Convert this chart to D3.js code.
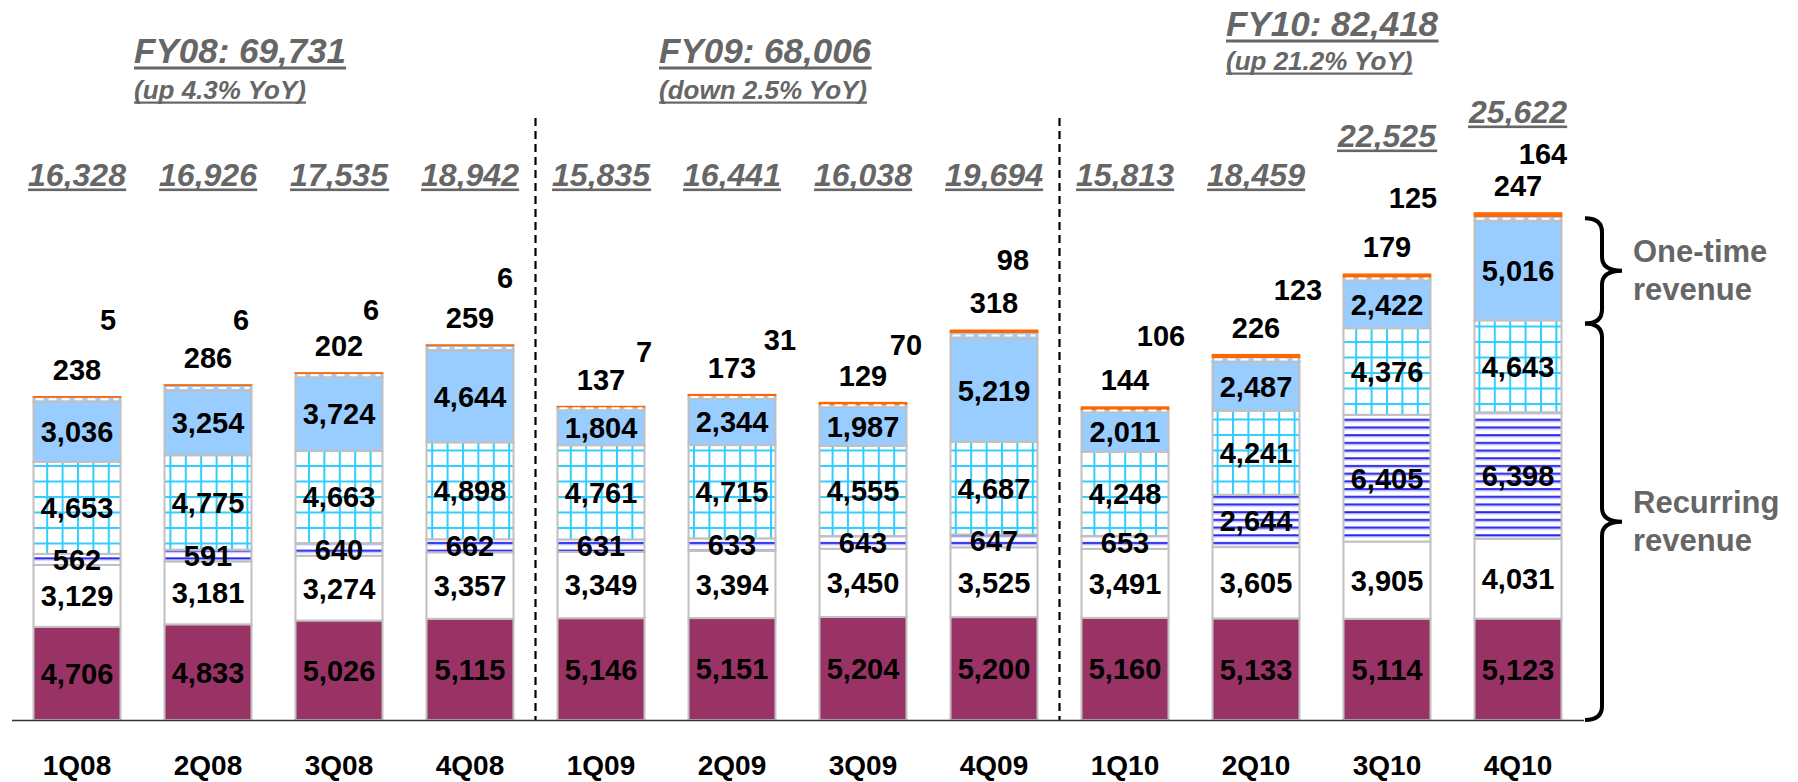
<!DOCTYPE html>
<html><head><meta charset="utf-8">
<script src="https://cdn.jsdelivr.net/npm/d3@7"></script>
<style>html,body{margin:0;padding:0;background:#fff;} svg{display:block;}</style>
</head><body><svg id="chart" width="1798" height="782"></svg>
<script>
// ---------------- data ----------------
const quarters = ["1Q08","2Q08","3Q08","4Q08","1Q09","2Q09","3Q09","4Q09","1Q10","2Q10","3Q10","4Q10"];
const seriesMaroon    = [4706,4833,5026,5115,5146,5151,5204,5200,5160,5133,5114,5123];
const seriesWhite     = [3129,3181,3274,3357,3349,3394,3450,3525,3491,3605,3905,4031];
const seriesHLines    = [562,591,640,662,631,633,643,647,653,2644,6405,6398];
const seriesGrid      = [4653,4775,4663,4898,4761,4715,4555,4687,4248,4241,4376,4643];
const seriesLightBlue = [3036,3254,3724,4644,1804,2344,1987,5219,2011,2487,2422,5016];
const seriesDashed    = [238,286,202,259,137,173,129,318,144,226,179,247];
const seriesOrange    = [5,6,6,6,7,31,70,98,106,123,125,164];
const totals          = [16328,16926,17535,18942,15835,16441,16038,19694,15813,18459,22525,25622];
const fyTitles    = ["FY08: 69,731","FY09: 68,006","FY10: 82,418"];
const fySubtitles = ["(up 4.3% YoY)","(down 2.5% YoY)","(up 21.2% YoY)"];
const braceLabels = [["One-time","revenue"],["Recurring","revenue"]];

// ---------------- layout ----------------
const W = 1798, H = 782, baseY = 720, topY = 213;
const orangeDx   = [31,33,32,35,43,48,43,19,36,42,26,25];
const orangeLift = [67,55,53,57,45,45,48,60,61,55,66,49];
const totalRaise = [0,0,0,0,0,0,0,0,0,0,39,63];
const fyX  = [134,659,1226], fyY = [63,63,36], fySubY = [99,99,70];
const grey = "#666666", border = "#C0C0C0";
const FONT = "'Liberation Sans', Arial, Helvetica, sans-serif";

const svg = d3.select("#chart");
const defs = svg.append("defs");
// grid pattern
const pg = defs.append("pattern").attr("id","grid").attr("patternUnits","userSpaceOnUse")
  .attr("width",15.4).attr("height",15.5);
pg.append("rect").attr("width",15.4).attr("height",15.5).attr("fill","#fff");
pg.append("rect").attr("x",0).attr("y",0).attr("width",2).attr("height",15.5).attr("fill","#33CCFF");
pg.append("rect").attr("x",0).attr("y",0).attr("width",15.4).attr("height",2).attr("fill","#33CCFF");
// horizontal lines pattern
const ph = defs.append("pattern").attr("id","hlines").attr("patternUnits","userSpaceOnUse")
  .attr("width",10).attr("height",7.7);
ph.append("rect").attr("width",10).attr("height",7.7).attr("fill","#fff");
ph.append("rect").attr("x",0).attr("y",3).attr("width",10).attr("height",2.2).attr("fill","#2626F0");
ph.append("rect").attr("x",0).attr("y",5.2).attr("width",10).attr("height",1).attr("fill","#B8BCF8");

const x = d3.scaleBand().domain(quarters).range([11.5,1583.5]).paddingInner(0.336).paddingOuter(0.168);
const y = d3.scaleLinear().domain([0, d3.max(totals)]).range([baseY, topY]);
const cx = q => x(q) + x.bandwidth()/2;

const keys = ["maroon","white","hlines","grid","lightblue","dashed","orange"];
const seriesArr = [seriesMaroon,seriesWhite,seriesHLines,seriesGrid,seriesLightBlue,seriesDashed,seriesOrange];
const rows = quarters.map((q,i) => { const r = {q}; keys.forEach((k,j)=> r[k] = seriesArr[j][i]); return r; });
const stacked = d3.stack().keys(keys)(rows);
const fills = {maroon:"#993366", white:"#FFFFFF", hlines:"url(#hlines)", grid:"url(#grid)", lightblue:"#99CCFF", dashed:"#99CCFF", orange:"#FF6600"};

// separators
[3,7].forEach(i => {
  const sx = cx(quarters[i]) + x.step()/2;
  svg.append("line").attr("x1",sx).attr("x2",sx).attr("y1",118).attr("y2",baseY)
    .attr("stroke","#000").attr("stroke-width",2.2).attr("stroke-dasharray","8,5");
});

// bars
const layers = svg.append("g").selectAll("g").data(stacked).join("g");
layers.selectAll("rect").data(d => d.map(v => ({key: d.key, v}))).join("rect")
  .attr("x", d => x(d.v.data.q))
  .attr("width", x.bandwidth())
  .attr("y", d => y(d.v[1]))
  .attr("height", d => y(d.v[0]) - y(d.v[1]))
  .attr("fill", d => fills[d.key])
  .attr("stroke", d => d.key === "orange" ? "#FF6600" : border)
  .attr("stroke-width", d => d.key === "orange" ? 1.6 : 2);
// white dashes in the small segment
stacked[5].forEach(v => {
  const ym = (y(v[0]) + y(v[1]))/2;
  svg.append("line").attr("x1", x(v.data.q)+2).attr("x2", x(v.data.q)+x.bandwidth()-2)
    .attr("y1", ym).attr("y2", ym).attr("stroke","#fff").attr("stroke-width",2).attr("stroke-dasharray","8,5");
});

// inner labels
const inner = svg.append("g").attr("font-family",FONT).attr("font-weight","bold").attr("font-size",29)
  .attr("text-anchor","middle").attr("fill","#000");
stacked.slice(0,5).forEach(layer => {
  layer.forEach(v => {
    inner.append("text").attr("x", cx(v.data.q)).attr("y", (y(v[0])+y(v[1]))/2).attr("dy","0.36em")
      .text(d3.format(",")(v.data[layer.key]));
  });
});
// outer labels
stacked[5].forEach((v,i) => {
  inner.append("text").attr("x", cx(v.data.q)).attr("y", y(stacked[6][i][1]) - 17)
    .text(d3.format(",")(v.data.dashed));
});
stacked[6].forEach((v,i) => {
  inner.append("text").attr("x", cx(v.data.q) + orangeDx[i]).attr("y", y(v[1]) - orangeLift[i])
    .text(d3.format(",")(v.data.orange));
});

// underlined italic grey text helper
function ulText(g, tx, ty, str, size, anchor, off, thick) {
  const t = g.append("text").attr("x",tx).attr("y",ty).attr("text-anchor",anchor)
    .attr("font-family",FONT).attr("font-weight","bold").attr("font-style","italic")
    .attr("font-size",size).attr("fill",grey).text(str);
  const bb = t.node().getBBox();
  g.append("rect").attr("x",bb.x).attr("y",ty+off).attr("width",bb.width).attr("height",thick).attr("fill",grey);
}
const annG = svg.append("g");
quarters.forEach((q,i) => ulText(annG, cx(q), 186 - totalRaise[i], d3.format(",")(totals[i]), 32, "middle", 2.5, 2.6));
fyTitles.forEach((s,i) => {
  ulText(annG, fyX[i], fyY[i], s, 35, "start", 3.5, 3);
  ulText(annG, fyX[i], fySubY[i], fySubtitles[i], 26, "start", 2.5, 2.2);
});

// x axis
const axis = svg.append("g").attr("transform",`translate(0,${baseY})`)
  .call(d3.axisBottom(x).tickSize(0).tickSizeOuter(0));
axis.select(".domain").attr("stroke","#333").attr("stroke-width",1.6);
axis.selectAll("text").attr("y",55).attr("dy",0).attr("font-family",FONT)
  .attr("font-weight","bold").attr("font-size",28).attr("fill","#000");

// braces
const last = quarters.length - 1;
const yA = y(stacked[4][last][1]) - 3, yB = y(stacked[3][last][1]) + 3, yC = baseY;
function brace(y1, y2) {
  const x0 = 1585, xv = 1602, xp = 1622, r = 14, ym = (y1+y2)/2;
  const p = `M${x0},${y1} Q${xv},${y1} ${xv},${y1+r} L${xv},${ym-r} Q${xv},${ym} ${xp},${ym} Q${xv},${ym} ${xv},${ym+r} L${xv},${y2-r} Q${xv},${y2} ${x0},${y2}`;
  svg.append("path").attr("d",p).attr("fill","none").attr("stroke","#000").attr("stroke-width",4);
  return ym;
}
[[yA,yB],[yB,yC]].forEach((pr,k) => {
  const ym = brace(pr[0], pr[1]);
  const t = svg.append("text").attr("font-family",FONT).attr("font-weight","bold").attr("font-size",31).attr("fill",grey);
  t.append("tspan").attr("x",1633).attr("y", ym - 9).text(braceLabels[k][0]);
  t.append("tspan").attr("x",1633).attr("y", ym + 29).text(braceLabels[k][1]);
});
</script></body></html>
